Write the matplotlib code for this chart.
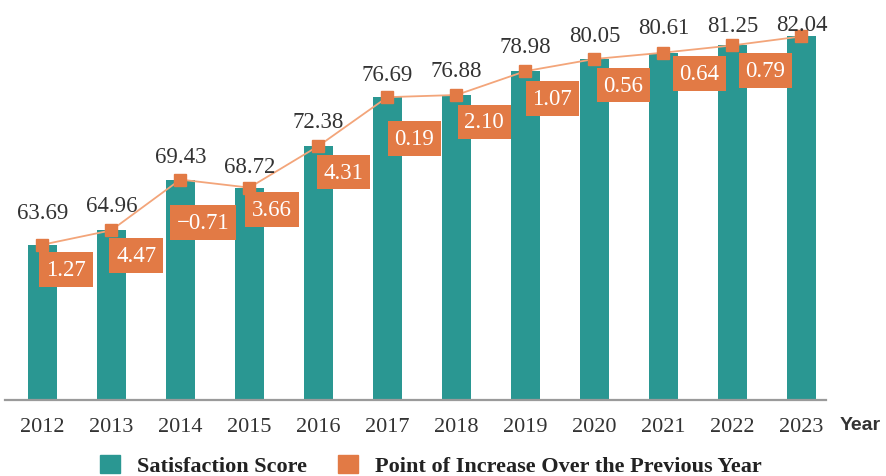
import matplotlib
matplotlib.use("Agg")
import matplotlib.pyplot as plt
from matplotlib.patches import Patch
from matplotlib import font_manager

# data
years = ["2012", "2013", "2014", "2015", "2016", "2017",
         "2018", "2019", "2020", "2021", "2022", "2023"]
scores = [63.69, 64.96, 69.43, 68.72, 72.38, 76.69,
          76.88, 78.98, 80.05, 80.61, 81.25, 82.04]
increase_labels = ["1.27", "4.47", "\u22120.71", "3.66", "4.31", "0.19",
                   "2.10", "1.07", "0.56", "0.64", "0.79"]

TEAL = "#2a9792"
ORANGE = "#e27a45"
LINE = "#f3a57a"

# label placement (px) relative to each marker
value_offsets = [32, 25, 23, 21, 25, 23, 24, 25, 24, 25, 20, 12]
box_offsets = [(24, -25), (25, -25), (23, -43), (23, -22), (25, -26), (27, -41),
               (28, -27), (27, -27), (29, -26), (36, -21), (33, -25)]

installed = {f.name for f in font_manager.fontManager.ttflist}
serif = "Liberation Serif" if "Liberation Serif" in installed else "DejaVu Serif"
sans = "Liberation Sans" if "Liberation Sans" in installed else "DejaVu Sans"

fig = plt.figure(figsize=(8.87, 4.77), dpi=100)
ax = fig.add_axes([0.0056, 0.159, 0.926, 0.833])

x = range(len(years))
ax.bar(x, scores, width=0.42, color=TEAL, zorder=2)
ax.plot(x, scores, color=LINE, lw=1.3, marker="s", markersize=8.5,
        markerfacecolor=ORANGE, markeredgecolor=ORANGE, zorder=3)

px = 72 / 100
for i, v in enumerate(scores):
    ax.annotate(f"{v:.2f}", (i, v), xytext=(0, value_offsets[i] * px), textcoords="offset points",
                ha="center", va="center", fontsize=16.5, color="#333333",
                family=serif, zorder=4)

for i, lab in enumerate(increase_labels):
    dx, dy = box_offsets[i]
    ax.annotate(lab, (i, scores[i]), xytext=(dx * px, dy * px), textcoords="offset points",
                ha="center", va="center", fontsize=16.5, color="white", family=serif,
                bbox=dict(boxstyle="square,pad=0.3", fc=ORANGE, ec="none"), zorder=5)

ax.set_xlim(-0.54, 11.36)
ax.set_ylim(50, 85)
ax.set_xticks(list(x))
ax.set_xticklabels(years, family=serif, fontsize=16, color="#333333")
ax.tick_params(axis="x", length=0, pad=12)
ax.set_yticks([])
for s in ["left", "right", "top"]:
    ax.spines[s].set_visible(False)
ax.spines["bottom"].set_color("#9a9a9a")
ax.spines["bottom"].set_linewidth(1.6)

fig.text(0.947, 0.108, "Year", fontsize=14, fontweight="bold", color="#333333",
         va="center", family=sans)

handles = [Patch(color=TEAL, label="Satisfaction Score"),
           Patch(color=ORANGE, label="Point of Increase Over the Previous Year")]
fig.legend(handles=handles, loc="center", bbox_to_anchor=(0.486, 0.022), ncol=2,
           frameon=False, handlelength=0.9, handleheight=0.9, handletextpad=0.75,
           columnspacing=1.4, labelcolor="#222222", borderpad=0.2,
           prop=dict(family=serif, weight="bold", size=16))

plt.savefig("out.png", dpi=100)
plt.close()
